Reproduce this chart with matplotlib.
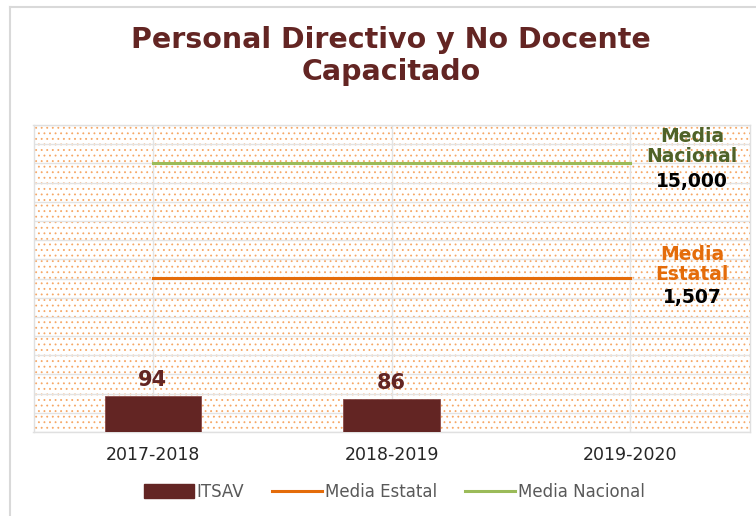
import matplotlib.pyplot as plt
import matplotlib.patches as mpatches
import matplotlib.lines as mlines
import numpy as np

periodos = ['2017-2018', '2018-2019', '2019-2020']
itsav = [94, 86]
media_estatal = [1507, 1507, 1507]
media_nacional = [15000, 15000, 15000]

guinda = '#632523'
naranja = '#E46C0A'
verde = '#9BBB59'
verde_osc = '#4F6228'
rejilla = '#E3E3E3'

plt.rcParams['font.family'] = 'DejaVu Sans'
plt.rcParams['hatch.linewidth'] = 0.6

W, H = 756, 516
fig = plt.figure(figsize=(W / 100, H / 100), dpi=100)

# marco exterior del grafico
fig.add_artist(plt.Line2D([9.5 / W, 9.5 / W], [0, 1 - 7 / H], color='#D9D9D9', lw=1.5))
fig.add_artist(plt.Line2D([9.5 / W, 1], [1 - 7 / H, 1 - 7 / H], color='#D9D9D9', lw=1.5))

# area de trazado en pixeles
x0, x1, y0, y1 = 33.5, 749.5, 125, 432
ax = fig.add_axes([x0 / W, 1 - y1 / H, (x1 - x0) / W, (y1 - y0) / H])
ax.patch.set_facecolor('white')
ax.patch.set_hatch('...')
ax.patch.set_edgecolor('#F6A765')
ax.patch.set_linewidth(0)

x = np.arange(len(periodos))
barras = ax.bar(x[:len(itsav)], itsav, width=0.405, color=guinda,
                edgecolor='#8A4A48', linewidth=0.6, zorder=3)
for b, v in zip(barras, itsav):
    ax.text(b.get_x() + b.get_width() / 2, v + 15, str(v), ha='center', va='bottom',
            fontsize=15, fontweight='bold', color=guinda, zorder=4)

ax.set_xlim(-0.5, 2.5)
ax.set_ylim(0, 800)
ax.set_yticks(np.arange(0, 801, 50))
ax.set_xticks(x)
ax.set_xticks(np.arange(-0.5, 2.51, 0.5), minor=True)
ax.set_xticklabels(periodos, fontsize=12.5, color='#262626')
ax.tick_params(axis='x', which='both', length=0, pad=10)
ax.tick_params(axis='y', length=0, labelleft=False)
ax.grid(axis='y', color=rejilla, lw=1, zorder=0)
ax.grid(axis='x', which='both', color=rejilla, lw=1, zorder=0)
ax.set_axisbelow(True)
for s in ax.spines.values():
    s.set_color('#E0E0E0')
    s.set_linewidth(1)

# eje secundario para las medias
ax2 = ax.twinx()
ax2.set_yscale('log')
ax2.set_ylim(69.3, 32100)
ax2.plot(x, media_estatal, color=naranja, lw=2.2, zorder=3)
ax2.plot(x, media_nacional, color=verde, lw=2.2, zorder=3)
ax2.set_yticks([])
ax2.minorticks_off()
ax2.tick_params(axis='y', which='both', length=0, labelright=False)
for s in ax2.spines.values():
    s.set_visible(False)

def etiqueta(valor, nombre, color, d_nombre, d_valor):
    # desplazamientos en pixeles convertidos a puntos
    ax2.annotate(nombre, (2.26, valor), xytext=(0, d_nombre * 0.72), textcoords='offset points',
                 ha='center', va='center', fontsize=13.5, fontweight='bold',
                 color=color, linespacing=1.08)
    ax2.annotate(f'{valor:,}', (2.26, valor), xytext=(0, -d_valor * 0.72), textcoords='offset points',
                 ha='center', va='center', fontsize=13.5, fontweight='bold', color='black')

etiqueta(media_nacional[0], 'Media\nNacional', verde_osc, 16.5, 18)
etiqueta(media_estatal[0], 'Media\nEstatal', naranja, 13.5, 20)

fig.text(391 / W, 1 - 56 / H, 'Personal Directivo y No Docente\nCapacitado', ha='center',
         va='center', fontsize=20.5, fontweight='bold', color=guinda, linespacing=1.15)

handles = [mpatches.Patch(color=guinda, label='ITSAV'),
           mlines.Line2D([], [], color=naranja, lw=2.2, label='Media Estatal'),
           mlines.Line2D([], [], color=verde, lw=2.2, label='Media Nacional')]
fig.legend(handles=handles, loc='center', bbox_to_anchor=(394 / W, 1 - 492 / H), ncol=3,
           frameon=False, fontsize=12, labelcolor='#595959', handlelength=3.0,
           handleheight=0.9, handletextpad=0.15, columnspacing=1.7)

fig.savefig('out.png', dpi=100)
